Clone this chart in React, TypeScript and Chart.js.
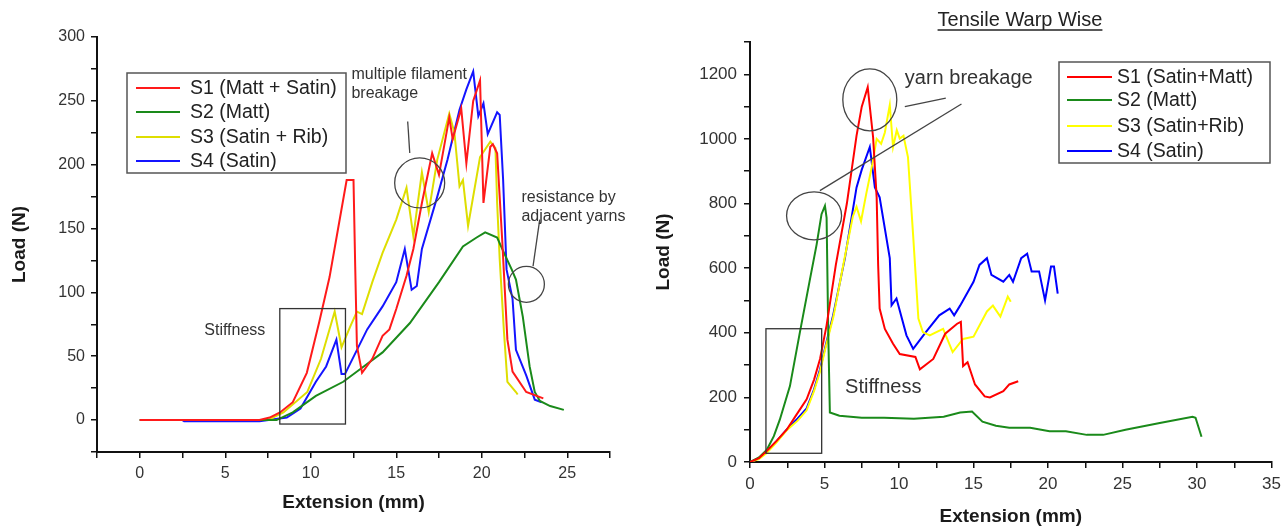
import React, { useEffect, useRef } from 'react';
import { Chart, registerables } from 'chart.js';

Chart.register(...registerables);

const FONT = '"Liberation Sans", Arial, Helvetica, sans-serif';

// ---------------- Left chart data ----------------
const leftLabels = ['S1 (Matt + Satin)', 'S2 (Matt)', 'S3 (Satin + Rib)', 'S4 (Satin)'];
const leftColors = ['#ff1a1a', '#1a8a1a', '#dede00', '#1414ff'];

const leftS1X = [0, 7.0, 7.6, 8.2, 8.95, 9.77, 10.5, 11.1, 11.6, 12.1, 12.5, 12.6, 12.7, 13.0, 13.6, 14.2, 14.6, 15.0, 15.6, 16.0, 16.5, 17.1, 17.5, 18.1, 18.3, 18.8, 19.1, 19.5, 19.9, 20.1, 20.5, 20.65, 20.9, 21.2, 21.5, 21.8, 22.6, 23.6];
const leftS1Y = [0, 0, 2, 6, 14, 37, 77, 112, 150, 188, 188, 120, 58, 37, 48, 66, 71, 87, 113, 134, 170, 209, 192, 237, 220, 244, 201, 250, 266, 170, 214, 216, 209, 140, 63, 38, 22, 17];

const leftS2X = [0, 8.0, 8.95, 10.3, 11.9, 13.0, 14.2, 15.8, 17.5, 18.9, 19.7, 20.2, 20.9, 21.3, 21.75, 22.0, 22.4, 22.8, 23.1, 23.4, 24.0, 24.8];
const leftS2Y = [0, 0, 6, 19, 30, 41, 53, 76, 108, 136, 143, 147, 143, 131, 118, 110, 81, 42, 22, 15, 11, 8];

const leftS3X = [0, 7.5, 8.4, 9.8, 10.6, 11.4, 11.8, 12.3, 12.7, 13.0, 13.6, 14.2, 15.0, 15.6, 16.0, 16.5, 16.9, 17.4, 18.1, 18.4, 18.7, 18.9, 19.2, 19.9, 20.5, 20.8, 20.9, 21.05, 21.3, 21.5, 22.0, 22.1];
const leftS3Y = [0, 0, 6, 22, 48, 85, 57, 73, 85, 83, 108, 131, 157, 182, 144, 194, 163, 204, 240, 225, 183, 188, 152, 206, 218, 213, 170, 126, 69, 30, 22, 20];

const leftS4X = [0, 2.5, 2.6, 7.0, 8.6, 9.4, 10.3, 10.9, 11.5, 11.8, 12.0, 13.3, 14.2, 15.0, 15.5, 15.9, 16.2, 16.5, 17.4, 18.0, 18.7, 19.1, 19.5, 19.8, 20.1, 20.35, 20.9, 21.05, 21.25, 21.45, 21.8, 22.0, 22.6, 23.1, 23.5];
const leftS4Y = [0, 0, -1, -1, 2, 9, 30, 42, 63, 36, 36, 71, 89, 108, 134, 102, 105, 134, 175, 204, 243, 259, 273, 238, 248, 224, 241, 239, 188, 118, 95, 55, 35, 16, 14];

// ---------------- Right chart data ----------------
const rightTitle = 'Tensile Warp Wise';
const rightLabels = ['S1 (Satin+Matt)', 'S2 (Matt)', 'S3 (Satin+Rib)', 'S4 (Satin)'];
const rightColors = ['#ff0000', '#1a8a1a', '#ffff00', '#0000ff'];

const rightS1X = [0, 0.6, 1.12, 1.8, 2.46, 3.1, 3.8, 4.3, 4.7, 5.14, 5.76, 6.5, 7.15, 7.5, 7.9, 8.26, 8.5, 8.6, 8.7, 9.05, 9.6, 10.05, 11.1, 11.4, 12.3, 13.1, 13.9, 14.15, 14.3, 14.6, 15.1, 15.75, 16.1, 17.0, 17.4, 18.0];
const rightS1Y = [0, 12, 34, 66, 100, 145, 194, 255, 319, 423, 610, 800, 1010, 1100, 1160, 1006, 819, 610, 475, 412, 366, 334, 325, 287, 319, 397, 428, 434, 297, 309, 240, 203, 200, 219, 240, 250];

const rightS2X = [0, 0.6, 1.12, 1.6, 2.0, 2.68, 3.35, 4.0, 4.47, 4.8, 5.03, 5.14, 5.25, 5.36, 6.0, 7.5, 9.0, 11.0, 13.0, 14.1, 14.9, 15.6, 16.5, 17.4, 18.8, 20.1, 21.2, 22.6, 23.7, 25.2, 27.5, 29.7, 29.9, 30.3];
const rightS2Y = [0, 14, 37, 80, 131, 235, 402, 560, 673, 767, 793, 756, 403, 153, 143, 137, 137, 134, 140, 153, 156, 125, 112, 106, 106, 95, 95, 84, 84, 100, 121, 140, 137, 78];

const rightS3X = [0, 0.6, 1.12, 1.8, 2.5, 3.2, 3.8, 4.3, 4.7, 5.1, 5.6, 6.3, 6.9, 7.15, 7.45, 7.8, 8.2, 8.5, 8.8, 9.05, 9.38, 9.6, 9.85, 10.05, 10.3, 10.6, 10.95, 11.3, 11.6, 12.06, 12.96, 13.6, 14.3, 15.0, 15.9, 16.3, 16.8, 17.3, 17.5];
const rightS3Y = [0, 9, 28, 62, 100, 128, 160, 220, 280, 360, 450, 620, 760, 790, 745, 830, 920, 1000, 985, 1020, 1105, 975, 1027, 1001, 1010, 944, 700, 444, 402, 392, 412, 340, 381, 388, 466, 484, 450, 512, 496];

const rightS4X = [0, 0.6, 1.12, 1.8, 2.5, 3.2, 3.8, 4.3, 4.7, 5.1, 5.58, 6.37, 7.15, 7.5, 8.04, 8.38, 8.7, 9.38, 9.5, 9.83, 10.5, 10.95, 11.8, 12.7, 13.4, 13.7, 14.1, 15.0, 15.4, 15.9, 16.2, 17.0, 17.4, 17.65, 18.2, 18.6, 18.9, 19.4, 19.8, 20.2, 20.4, 20.65];
const rightS4Y = [0, 11, 32, 65, 102, 135, 166, 225, 287, 365, 454, 631, 850, 905, 975, 850, 819, 631, 485, 506, 392, 350, 402, 454, 475, 454, 484, 558, 610, 631, 579, 558, 579, 558, 631, 645, 590, 590, 500, 605, 605, 521];

// ---------------- Annotations (data coordinates) ----------------
const leftRects = [[8.19, 87.3, 12.03, -3.1]];
const leftEllipses = [[16.37, 185.7, 25, 25], [22.61, 106.3, 18, 18]];
const leftLines = [[15.67, 233.8, 15.79, 209.1], [23.39, 157, 23.0, 120.5]];
const leftTexts = [
  { x: 5.56, y: 70.3, text: 'Stiffness', size: 16, align: 'center' },
  { x: 12.38, y: 270.3, text: 'multiple filament', size: 16, align: 'left' },
  { x: 12.38, y: 255.9, text: 'breakage', size: 16, align: 'left' },
  { x: 22.32, y: 174, text: 'resistance by', size: 16, align: 'left' },
  { x: 22.32, y: 159.6, text: 'adjacent yarns', size: 16, align: 'left' },
];

const rightRects = [[1.07, 412.5, 4.81, 27]];
const rightEllipses = [[8.04, 1121, 27, 31], [4.3, 762, 27.5, 24]];
const rightLines = [[10.39, 1100, 13.14, 1126], [4.69, 840, 14.19, 1108]];
const rightTexts = [
  { x: 8.94, y: 230, text: 'Stiffness', size: 20, align: 'center' },
  { x: 10.39, y: 1188, text: 'yarn breakage', size: 20, align: 'left' },
];

type Series = { label: string; color: string; x: number[]; y: number[] };

function annotationPlugin(rects: number[][], ellipses: number[][], lines: number[][], texts: any[]) {
  return {
    id: 'annos',
    afterDatasetsDraw(chart: any) {
      const { ctx } = chart;
      const sx = chart.scales.x;
      const sy = chart.scales.y;
      ctx.save();
      ctx.strokeStyle = '#333';
      ctx.lineWidth = 1.3;
      rects.forEach(([x1, y1, x2, y2]) => {
        const a = sx.getPixelForValue(x1), b = sy.getPixelForValue(y1);
        const c = sx.getPixelForValue(x2), d = sy.getPixelForValue(y2);
        ctx.strokeRect(a, b, c - a, d - b);
      });
      ctx.strokeStyle = '#444';
      ellipses.forEach(([cx, cy, rx, ry]) => {
        ctx.beginPath();
        ctx.ellipse(sx.getPixelForValue(cx), sy.getPixelForValue(cy), rx, ry, 0, 0, Math.PI * 2);
        ctx.stroke();
      });
      lines.forEach(([x1, y1, x2, y2]) => {
        ctx.beginPath();
        ctx.moveTo(sx.getPixelForValue(x1), sy.getPixelForValue(y1));
        ctx.lineTo(sx.getPixelForValue(x2), sy.getPixelForValue(y2));
        ctx.stroke();
      });
      ctx.fillStyle = '#333';
      ctx.textBaseline = 'middle';
      texts.forEach((t) => {
        ctx.font = `${t.size}px ${FONT}`;
        ctx.textAlign = t.align;
        ctx.fillText(t.text, sx.getPixelForValue(t.x), sy.getPixelForValue(t.y));
      });
      ctx.restore();
    },
  };
}

function legendPlugin(box: number[], lineX: number[], textX: number, rowY: number[], size: number) {
  return {
    id: 'boxLegend',
    afterDraw(chart: any) {
      const { ctx } = chart;
      ctx.save();
      const [x1, y1, x2, y2] = box;
      ctx.fillStyle = '#fff';
      ctx.fillRect(x1, y1, x2 - x1, y2 - y1);
      ctx.strokeStyle = '#555';
      ctx.lineWidth = 1.5;
      ctx.strokeRect(x1, y1, x2 - x1, y2 - y1);
      ctx.font = `${size}px ${FONT}`;
      ctx.textBaseline = 'middle';
      ctx.textAlign = 'left';
      chart.data.datasets.forEach((ds: any, i: number) => {
        ctx.strokeStyle = ds.borderColor;
        ctx.lineWidth = 2;
        ctx.beginPath();
        ctx.moveTo(lineX[0], rowY[i]);
        ctx.lineTo(lineX[1], rowY[i]);
        ctx.stroke();
        ctx.fillStyle = '#222';
        ctx.fillText(ds.label, textX, rowY[i] + 1);
      });
      ctx.restore();
    },
  };
}

function titlePlugin(text: string, cx: number, cy: number, size: number) {
  return {
    id: 'ulTitle',
    afterDraw(chart: any) {
      const { ctx } = chart;
      ctx.save();
      ctx.font = `${size}px ${FONT}`;
      ctx.fillStyle = '#222';
      ctx.textAlign = 'center';
      ctx.textBaseline = 'middle';
      ctx.fillText(text, cx, cy);
      const w = ctx.measureText(text).width;
      ctx.strokeStyle = '#222';
      ctx.lineWidth = 1.3;
      ctx.beginPath();
      ctx.moveTo(cx - w / 2, cy + 10);
      ctx.lineTo(cx + w / 2, cy + 10);
      ctx.stroke();
      ctx.restore();
    },
  };
}

function buildChart(canvas: HTMLCanvasElement, cfg: any) {
  const datasets = cfg.series.map((s: Series) => ({
    label: s.label,
    data: s.x.map((xv, j) => ({ x: xv, y: s.y[j] })),
    borderColor: s.color,
    backgroundColor: s.color,
    borderWidth: 2,
    pointRadius: 0,
    fill: false,
    tension: 0,
  }));
  const isMajor = (v: number, m: number) => Math.abs(v / m - Math.round(v / m)) < 1e-6;
  const tickFont = { family: FONT, size: cfg.tickSize };
  const titleFont = { family: FONT, size: 19, weight: 'bold' as const };
  const grid = { display: true, drawOnChartArea: false, drawTicks: true, tickLength: 6, color: '#111', lineWidth: 1.5 };
  const border = { display: true, color: '#111', width: 2 };
  return new Chart(canvas, {
    type: 'line',
    data: { datasets },
    options: {
      animation: false,
      responsive: false,
      devicePixelRatio: 1,
      layout: { padding: cfg.padding },
      plugins: { legend: { display: false }, tooltip: { enabled: false }, title: { display: false } },
      scales: {
        x: {
          type: 'linear',
          min: cfg.xMin,
          max: cfg.xMax,
          afterFit: (a: any) => { a.height = cfg.xAxisHeight; },
          ticks: {
            stepSize: cfg.xStep,
            autoSkip: false,
            maxRotation: 0,
            minRotation: 0,
            padding: 6,
            color: '#333',
            font: tickFont,
            callback: (v: any) => (isMajor(Number(v), cfg.xMajor) ? String(Math.round(Number(v))) : ''),
          },
          grid,
          border,
          title: { display: true, text: 'Extension (mm)', color: '#1a1a1a', font: titleFont, padding: { top: 0, bottom: cfg.xTitlePad } },
        },
        y: {
          type: 'linear',
          min: cfg.yMin,
          max: cfg.yMax,
          afterFit: (a: any) => { a.width = cfg.yAxisWidth; },
          ticks: {
            stepSize: cfg.yStep,
            autoSkip: false,
            padding: cfg.yTickPad,
            color: '#333',
            font: tickFont,
            callback: (v: any) => (isMajor(Number(v), cfg.yMajor) ? String(Math.round(Number(v))) : ''),
          },
          grid,
          border,
          title: { display: true, text: 'Load (N)', color: '#1a1a1a', font: titleFont, padding: { top: cfg.yTitlePad, bottom: 0 } },
        },
      },
    },
    plugins: cfg.plugins,
  } as any);
}

export default function App() {
  const leftRef = useRef<HTMLCanvasElement>(null);
  const rightRef = useRef<HTMLCanvasElement>(null);

  useEffect(() => {
    const leftSeries: Series[] = [
      { label: leftLabels[0], color: leftColors[0], x: leftS1X, y: leftS1Y },
      { label: leftLabels[1], color: leftColors[1], x: leftS2X, y: leftS2Y },
      { label: leftLabels[2], color: leftColors[2], x: leftS3X, y: leftS3Y },
      { label: leftLabels[3], color: leftColors[3], x: leftS4X, y: leftS4Y },
    ];
    const rightSeries: Series[] = [
      { label: rightLabels[0], color: rightColors[0], x: rightS1X, y: rightS1Y },
      { label: rightLabels[1], color: rightColors[1], x: rightS2X, y: rightS2Y },
      { label: rightLabels[2], color: rightColors[2], x: rightS3X, y: rightS3Y },
      { label: rightLabels[3], color: rightColors[3], x: rightS4X, y: rightS4Y },
    ];
    const left = buildChart(leftRef.current!, {
      series: leftSeries,
      padding: { left: 0, right: 30, top: 37, bottom: 0 },
      xMin: -2.5, xMax: 27.5, xStep: 2.5, xMajor: 5,
      yMin: -25, yMax: 300, yStep: 25, yMajor: 50,
      xAxisHeight: 76, yAxisWidth: 97, xTitlePad: 14, yTitlePad: 8, yTickPad: 6, tickSize: 16,
      plugins: [
        annotationPlugin(leftRects, leftEllipses, leftLines, leftTexts),
        legendPlugin([127, 73, 346, 173], [136, 180], 190, [88, 112, 137, 161], 19.5),
      ],
    });
    const right = buildChart(rightRef.current!, {
      series: rightSeries,
      padding: { left: 0, right: 15, top: 42, bottom: 0 },
      xMin: 0, xMax: 35, xStep: 2.5, xMajor: 5,
      yMin: 0, yMax: 1300, yStep: 100, yMajor: 200,
      xAxisHeight: 66, yAxisWidth: 110, xTitlePad: 0, yTitlePad: 12, yTickPad: 7, tickSize: 17,
      plugins: [
        annotationPlugin(rightRects, rightEllipses, rightLines, rightTexts),
        legendPlugin([419, 62, 630, 163], [427, 472], 477, [77, 100, 126, 151], 19.5),
        titlePlugin(rightTitle, 380, 20, 20),
      ],
    });
    return () => {
      left.destroy();
      right.destroy();
    };
  }, []);

  return (
    <div style={{ position: 'fixed', left: 0, top: 0, width: 1287, height: 528, background: '#fff' }}>
      <canvas ref={leftRef} width={640} height={528} style={{ position: 'absolute', left: 0, top: 0, width: 640, height: 528 }} />
      <canvas ref={rightRef} width={647} height={528} style={{ position: 'absolute', left: 640, top: 0, width: 647, height: 528 }} />
    </div>
  );
}
